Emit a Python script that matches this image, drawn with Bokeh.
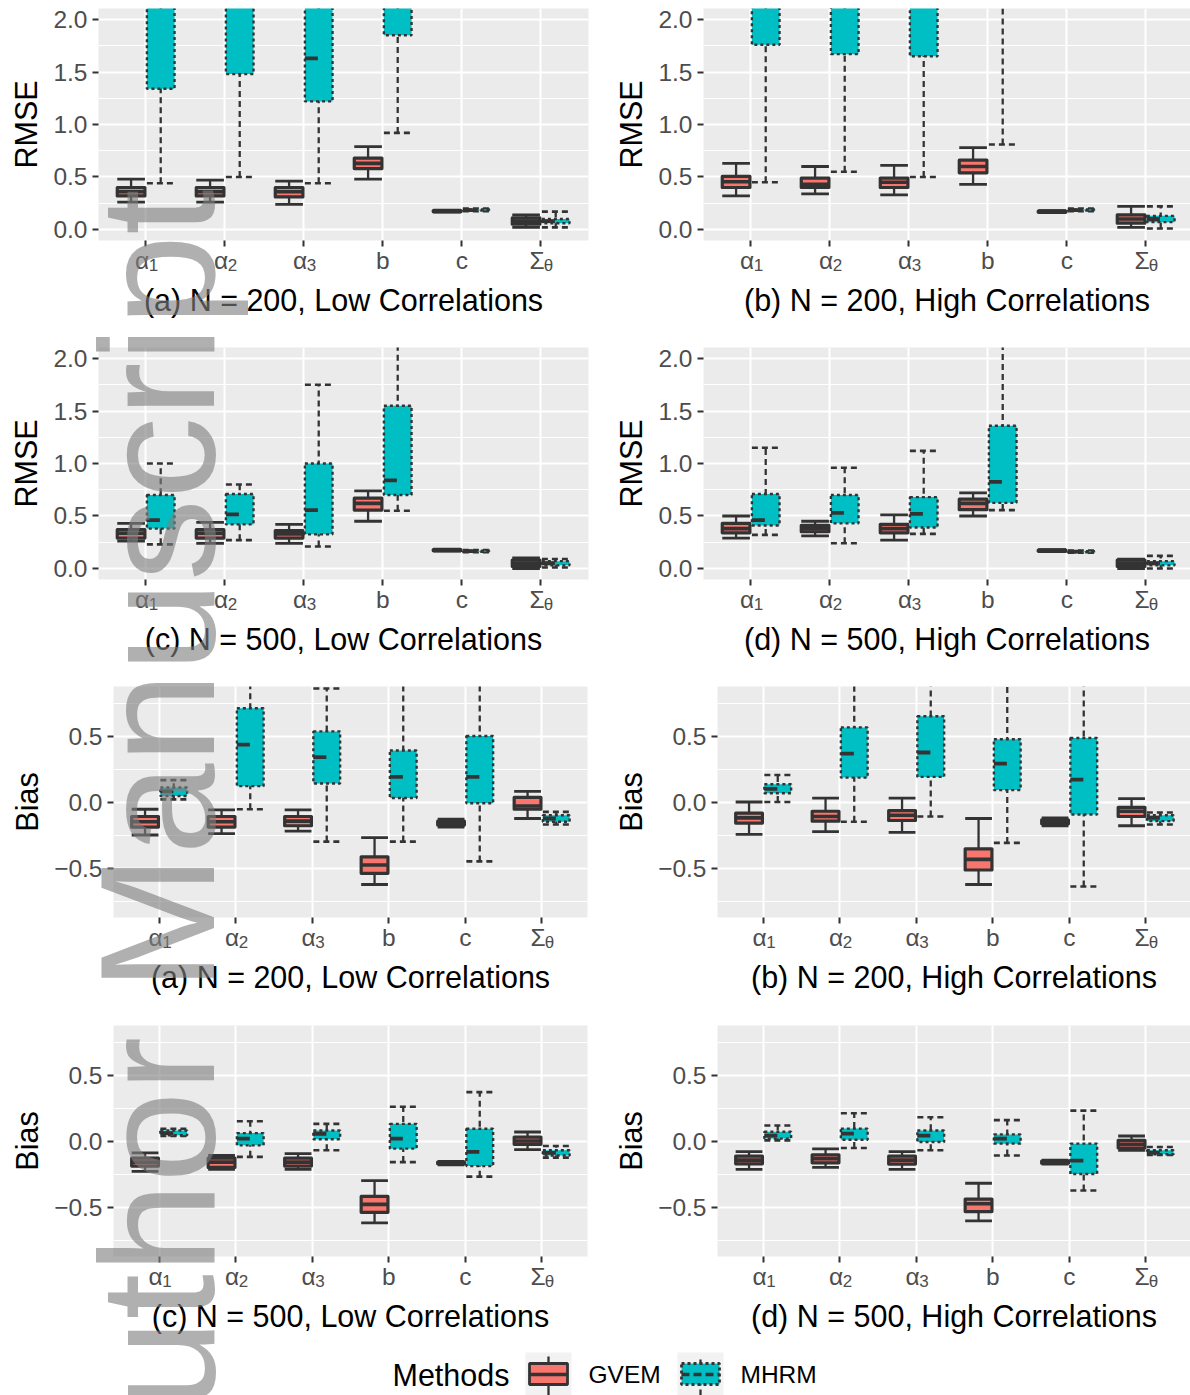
from bokeh.plotting import figure
from bokeh.models import FixedTicker, PrintfTickFormatter, Range1d, ColumnDataSource, LinearAxis, Div
from bokeh.layouts import column, row
from bokeh.embed import file_html
from bokeh.resources import INLINE
from bokeh.core.properties import value

# ---------------- data ----------------
params = ["α1", "α2", "α3", "b", "c", "Σθ"]
param_main = ["α", "α", "α", "b", "c", "Σ"]
param_sub = ["1", "2", "3", "", "", "θ"]
methods = ["GVEM", "MHRM"]
# each entry: [lower whisker, Q1, median, Q3, upper whisker] for α1, α2, α3, b, c, Σθ

rmse_a_gvem = [[0.26, 0.32, 0.36, 0.40, 0.48], [0.26, 0.32, 0.36, 0.40, 0.47], [0.24, 0.31, 0.36, 0.40, 0.46],
               [0.48, 0.58, 0.63, 0.68, 0.79], [0.165, 0.17, 0.175, 0.18, 0.185], [0.02, 0.05, 0.08, 0.11, 0.14]]
rmse_a_mhrm = [[0.44, 1.34, 2.60, 3.40, 5.0], [0.50, 1.48, 2.70, 3.50, 5.0], [0.44, 1.22, 1.63, 2.60, 4.5],
               [0.92, 1.85, 2.80, 3.60, 5.5], [0.175, 0.18, 0.185, 0.19, 0.20], [0.02, 0.06, 0.08, 0.10, 0.17]]

rmse_b_gvem = [[0.32, 0.40, 0.455, 0.505, 0.63], [0.34, 0.40, 0.43, 0.49, 0.60], [0.33, 0.40, 0.45, 0.49, 0.61],
               [0.43, 0.54, 0.60, 0.66, 0.78], [0.16, 0.165, 0.17, 0.175, 0.18], [0.02, 0.06, 0.10, 0.14, 0.22]]
rmse_b_mhrm = [[0.45, 1.76, 2.60, 3.40, 5.0], [0.55, 1.67, 2.60, 3.40, 5.0], [0.50, 1.65, 2.60, 3.40, 5.0],
               [0.81, 2.30, 3.00, 3.80, 5.5], [0.175, 0.18, 0.185, 0.19, 0.20], [0.01, 0.07, 0.10, 0.13, 0.22]]

rmse_c_gvem = [[0.26, 0.29, 0.335, 0.37, 0.43], [0.24, 0.29, 0.335, 0.37, 0.44], [0.24, 0.29, 0.33, 0.36, 0.42],
               [0.45, 0.556, 0.62, 0.67, 0.74], [0.165, 0.17, 0.175, 0.18, 0.185], [0.0, 0.02, 0.05, 0.08, 0.10]]
rmse_c_mhrm = [[0.23, 0.38, 0.46, 0.70, 1.00], [0.27, 0.42, 0.515, 0.71, 0.80], [0.21, 0.325, 0.556, 1.00, 1.75],
               [0.55, 0.70, 0.84, 1.55, 2.9], [0.155, 0.16, 0.165, 0.17, 0.175], [0.01, 0.03, 0.05, 0.07, 0.09]]

rmse_d_gvem = [[0.29, 0.34, 0.38, 0.43, 0.50], [0.31, 0.35, 0.38, 0.41, 0.45], [0.27, 0.34, 0.38, 0.42, 0.51],
               [0.50, 0.56, 0.62, 0.66, 0.72], [0.16, 0.165, 0.17, 0.175, 0.18], [0.0, 0.02, 0.05, 0.08, 0.09]]
rmse_d_mhrm = [[0.32, 0.41, 0.46, 0.71, 1.15], [0.24, 0.43, 0.53, 0.70, 0.96], [0.33, 0.39, 0.52, 0.68, 1.12],
               [0.556, 0.625, 0.825, 1.36, 2.6], [0.15, 0.155, 0.16, 0.165, 0.17], [0.0, 0.03, 0.05, 0.07, 0.12]]

bias_a_gvem = [[-0.25, -0.19, -0.15, -0.11, -0.055], [-0.24, -0.19, -0.15, -0.11, -0.06], [-0.22, -0.18, -0.145, -0.11, -0.06],
               [-0.625, -0.54, -0.477, -0.415, -0.27], [-0.19, -0.175, -0.16, -0.145, -0.13], [-0.125, -0.055, -0.03, 0.035, 0.08]]
bias_a_mhrm = [[0.02, 0.045, 0.08, 0.11, 0.166], [-0.055, 0.12, 0.435, 0.71, 1.3], [-0.30, 0.14, 0.34, 0.535, 0.86],
               [-0.30, 0.03, 0.19, 0.39, 1.2], [-0.45, -0.01, 0.19, 0.50, 1.4], [-0.17, -0.15, -0.125, -0.10, -0.075]]

bias_b_gvem = [[-0.245, -0.16, -0.12, -0.085, 0.0], [-0.225, -0.145, -0.11, -0.07, 0.03], [-0.23, -0.14, -0.10, -0.065, 0.03],
               [-0.625, -0.515, -0.435, -0.355, -0.125], [-0.18, -0.165, -0.15, -0.135, -0.12], [-0.18, -0.11, -0.07, -0.04, 0.025]]
bias_b_mhrm = [[0.0, 0.066, 0.10, 0.134, 0.205], [-0.15, 0.185, 0.367, 0.565, 1.3], [-0.11, 0.19, 0.375, 0.65, 1.3],
               [-0.31, 0.09, 0.29, 0.475, 1.2], [-0.64, -0.095, 0.17, 0.485, 1.4], [-0.17, -0.145, -0.12, -0.10, -0.08]]

bias_c_gvem = [[-0.23, -0.19, -0.16, -0.13, -0.09], [-0.215, -0.20, -0.16, -0.13, -0.11], [-0.215, -0.19, -0.16, -0.13, -0.095],
               [-0.62, -0.54, -0.48, -0.42, -0.30], [-0.18, -0.172, -0.165, -0.16, -0.155], [-0.066, -0.025, 0.0, 0.03, 0.068]]
bias_c_mhrm = [[0.038, 0.043, 0.06, 0.08, 0.093], [-0.12, -0.033, 0.018, 0.06, 0.15], [-0.07, 0.013, 0.055, 0.08, 0.13],
               [-0.16, -0.058, 0.018, 0.13, 0.26], [-0.27, -0.19, -0.083, 0.093, 0.37], [-0.126, -0.11, -0.09, -0.07, -0.038]]

bias_d_gvem = [[-0.215, -0.173, -0.145, -0.115, -0.08], [-0.20, -0.165, -0.135, -0.105, -0.06], [-0.215, -0.175, -0.145, -0.115, -0.08],
               [-0.605, -0.535, -0.475, -0.44, -0.32], [-0.175, -0.168, -0.16, -0.152, -0.145], [-0.07, -0.053, -0.025, 0.005, 0.038]]
bias_d_mhrm = [[0.005, 0.018, 0.04, 0.07, 0.117], [-0.053, 0.01, 0.056, 0.094, 0.21], [-0.07, -0.008, 0.04, 0.08, 0.18],
               [-0.11, -0.02, 0.018, 0.05, 0.158], [-0.375, -0.25, -0.148, -0.02, 0.23], [-0.105, -0.10, -0.088, -0.07, -0.045]]

captions = ["(a) N = 200, Low Correlations", "(b) N = 200, High Correlations",
            "(c) N = 500, Low Correlations", "(d) N = 500, High Correlations"]
rmse_ticks = [0.0, 0.5, 1.0, 1.5, 2.0]
bias_ticks = [-0.5, 0.0, 0.5]
watermark = "Author Manuscript"

# ---------------- style / layout ----------------
FONT = "Liberation Sans"
GVEM_FILL = "#F8766D"
MHRM_FILL = "#00BFC4"
DARK = "#333333"
TICK_TXT = "#4D4D4D"
PANEL_BG = "#EBEBEB"
DODGE = 0.1875
BOX_W = 0.35

ROW_H = [340, 346, 339, 325]
TOP_B = [8, 7, 0, 0]
FRAME_H = [232, 232, 231, 231]
COL_W = [605, 585]


def add_boxes(p, stats, offset, method):
    xs = [i + 1 + offset for i in range(len(stats))]
    src = ColumnDataSource(dict(
        x=xs,
        l=[x - BOX_W / 2 for x in xs], r=[x + BOX_W / 2 for x in xs],
        lo=[s[0] for s in stats], q1=[s[1] for s in stats], med=[s[2] for s in stats],
        q3=[s[3] for s in stats], hi=[s[4] for s in stats]))
    if method == "GVEM":
        p.segment("x", "lo", "x", "hi", source=src, line_color=DARK, line_width=2.3)
        p.segment("l", "lo", "r", "lo", source=src, line_color=DARK, line_width=2.8)
        p.segment("l", "hi", "r", "hi", source=src, line_color=DARK, line_width=2.8)
        p.quad(left="l", right="r", bottom="q1", top="q3", source=src, fill_color=GVEM_FILL,
               line_color=DARK, line_width=3.2, line_join="round")
        p.segment("l", "med", "r", "med", source=src, line_color=DARK, line_width=3.6)
    else:
        p.segment("x", "lo", "x", "hi", source=src, line_color=DARK, line_width=2.3, line_dash="6 4")
        p.segment("l", "lo", "r", "lo", source=src, line_color=DARK, line_width=2.6, line_dash="6 4")
        p.segment("l", "hi", "r", "hi", source=src, line_color=DARK, line_width=2.6, line_dash="6 4")
        p.quad(left="l", right="r", bottom="q1", top="q3", source=src, fill_color=MHRM_FILL,
               line_color=DARK, line_width=2.4, line_dash="3 3")
        p.segment("l", "med", "r", "med", source=src, line_color=DARK, line_width=3.8, line_dash="13 20")


def style_axis(ax):
    ax.axis_line_color = None
    ax.minor_tick_line_color = None
    ax.major_tick_in = 0
    ax.major_label_text_font = FONT
    ax.major_label_text_color = TICK_TXT
    ax.axis_label_text_font = FONT
    ax.axis_label_text_font_size = "30.5px"
    ax.axis_label_text_font_style = "normal"
    ax.axis_label_text_color = "black"


def make_panel(gvem, mhrm, kind, caption, r, c):
    if kind == "RMSE":
        yr = (-0.105, 2.105)
        border_left = 98
        px_per = 79.0
        ticks = rmse_ticks
        minor = [0.25, 0.75, 1.25, 1.75]
        frame_w = [490, 487][c]
    else:
        yr = (-0.875, 0.875)
        border_left = [113, 112][c]
        px_per = 76.5
        ticks = bias_ticks
        minor = [-0.75, -0.25, 0.25, 0.75]
        frame_w = [474, 473][c]
    width = COL_W[c]
    border_right = width - border_left - frame_w
    x_hi = 0.4 + frame_w / px_per
    p = figure(width=width, height=ROW_H[r], x_range=Range1d(0.4, x_hi), y_range=Range1d(*yr),
               output_backend="svg", toolbar_location=None,
               min_border_left=border_left, min_border_right=border_right,
               min_border_top=TOP_B[r], min_border_bottom=ROW_H[r] - FRAME_H[r] - TOP_B[r])
    p.background_fill_color = PANEL_BG
    p.border_fill_color = "white"
    p.outline_line_color = None

    add_boxes(p, gvem, -DODGE, "GVEM")
    add_boxes(p, mhrm, DODGE, "MHRM")

    # y axis
    ya = p.yaxis[0]
    style_axis(ya)
    ya.ticker = FixedTicker(ticks=ticks, minor_ticks=minor)
    ya.formatter = PrintfTickFormatter(format="%.1f")
    if kind == "Bias":
        ya.major_label_overrides = {-0.5: "\u22120.5"}
    ya.major_tick_line_color = DARK
    ya.major_tick_line_width = 2
    ya.major_tick_out = 6
    ya.major_label_text_font_size = "24.5px"
    ya.major_label_standoff = 5
    ya.axis_label_standoff = 7
    ya.axis_label = kind

    # x axis B: tick marks (as minor ticks at the categories) + main symbols of the labels
    cats = [1, 2, 3, 4, 5, 6]
    main_ticks = [i + 1 - (3.8 / px_per if param_sub[i] else 0.0) for i in range(6)]
    xb = p.xaxis[0]
    style_axis(xb)
    xb.ticker = FixedTicker(ticks=main_ticks, minor_ticks=cats)
    xb.major_label_overrides = {main_ticks[i]: param_main[i] for i in range(6)}
    xb.major_tick_line_color = None
    xb.major_tick_out = 0
    xb.minor_tick_line_color = DARK
    xb.minor_tick_line_width = 2
    xb.minor_tick_in = 0
    xb.minor_tick_out = 6
    xb.major_label_text_font_size = "24.5px"
    xb.major_label_standoff = 0

    # x axis C: subscripts + panel caption
    sub_ticks = [i + 1 + 7.5 / px_per for i in range(6) if param_sub[i]]
    sub_text = [param_sub[i] for i in range(6) if param_sub[i]]
    xc = LinearAxis(ticker=FixedTicker(ticks=sub_ticks),
                    major_label_overrides={t: s for t, s in zip(sub_ticks, sub_text)})
    style_axis(xc)
    xc.major_tick_line_color = None
    xc.major_tick_out = 0
    xc.major_label_text_font_size = "17px"
    xc.major_label_standoff = -21
    xc.axis_label = caption
    xc.axis_label_standoff = 5
    p.add_layout(xc, "below")

    # grid
    p.xgrid.grid_line_color = "white"
    p.xgrid.grid_line_width = 2
    p.xgrid.ticker = FixedTicker(ticks=cats)
    p.ygrid.grid_line_color = "white"
    p.ygrid.grid_line_width = 2
    p.ygrid.minor_grid_line_color = "white"
    p.ygrid.minor_grid_line_width = 1
    return p


panels = [
    (rmse_a_gvem, rmse_a_mhrm, "RMSE", captions[0], 0, 0),
    (rmse_b_gvem, rmse_b_mhrm, "RMSE", captions[1], 0, 1),
    (rmse_c_gvem, rmse_c_mhrm, "RMSE", captions[2], 1, 0),
    (rmse_d_gvem, rmse_d_mhrm, "RMSE", captions[3], 1, 1),
    (bias_a_gvem, bias_a_mhrm, "Bias", captions[0], 2, 0),
    (bias_b_gvem, bias_b_mhrm, "Bias", captions[1], 2, 1),
    (bias_c_gvem, bias_c_mhrm, "Bias", captions[2], 3, 0),
    (bias_d_gvem, bias_d_mhrm, "Bias", captions[3], 3, 1),
]
figs = [make_panel(*args) for args in panels]

# ---------------- legend ----------------
LEG_W, LEG_H = 1190, 45
leg = figure(width=LEG_W, height=LEG_H, x_range=Range1d(0, LEG_W), y_range=Range1d(0, LEG_H),
             output_backend="svg", toolbar_location=None, min_border=0,
             x_axis_location=None, y_axis_location=None)
leg.grid.visible = False
leg.outline_line_color = None
leg.background_fill_color = "white"
leg.border_fill_color = "white"
ky = 21  # centre line of the legend row
leg.text(x=[392], y=[ky], text=["Methods"], text_font=value(FONT), text_font_size="30.5px",
         text_baseline="middle", text_color="black")
key_x = [548, 700]
for k, m in enumerate(methods):
    kx = key_x[k]
    leg.quad(left=[kx - 23], right=[kx + 23], bottom=[0], top=[43], fill_color="#F2F2F2", line_color=None)
    dash = "solid" if m == "GVEM" else "6 4"
    box_dash = "solid" if m == "GVEM" else "3 3"
    leg.segment(x0=[kx], y0=[0], x1=[kx], y1=[39], line_color=DARK, line_width=2.3, line_dash=dash)
    leg.quad(left=[kx - 19], right=[kx + 19], bottom=[ky - 10], top=[ky + 11],
             fill_color=GVEM_FILL if m == "GVEM" else MHRM_FILL, line_color=DARK, line_width=2.8,
             line_dash=box_dash)
    leg.segment(x0=[kx - 19], y0=[ky], x1=[kx + 19], y1=[ky], line_color=DARK, line_width=3.4,
                line_dash="solid" if m == "GVEM" else "8 4")
    leg.text(x=[kx + 40], y=[ky], text=[m], text_font=value(FONT), text_font_size="24.5px",
             text_baseline="middle", text_color="black")

# ---------------- watermark (semi-transparent overlay text) ----------------
wm_html = ('<div style="position:absolute; left:71px; top:1515px; transform-origin:0 0; '
           'transform:rotate(-90deg); font-family:\'Liberation Sans\'; font-size:164px; line-height:1; '
           'white-space:nowrap; color:rgba(128,128,128,0.62);">' + watermark + '</div>')
wm = Div(text=wm_html, width=300, height=1395, disable_math=True,
         styles={"position": "absolute", "left": "0px", "top": "0px", "width": "300px", "height": "1395px",
                 "overflow": "hidden", "pointer-events": "none", "z-index": "10"})

layout = column(row(figs[0], figs[1]), row(figs[2], figs[3]), row(figs[4], figs[5]),
                row(figs[6], figs[7]), leg, wm)
open("out.html", "w").write(file_html(layout, INLINE))
